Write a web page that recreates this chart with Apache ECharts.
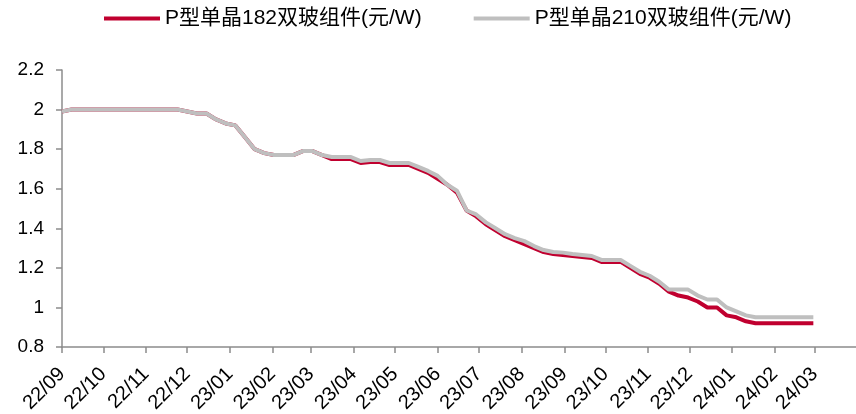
<!DOCTYPE html>
<html>
<head>
<meta charset="utf-8">
<script src="https://cdn.jsdelivr.net/npm/echarts@6/dist/echarts.min.js"></script>
<style>
  html, body { margin: 0; padding: 0; background: #fff; }
  #e-line { width: 856px; height: 414px; }
</style>
</head>
<body>
<div id="e-line"></div>
<script>
// Data (weekly, every Thursday from 22/09/01)
var startDate = [2022, 8, 1];
var weekCount = 79;

var seriesNames = ["P型单晶182双玻组件(元/W)", "P型单晶210双玻组件(元/W)"];

var price182 = [
  1.99, 2.00, 2.00, 2.00, 2.00, 2.00, 2.00, 2.00, 2.00, 2.00,
  2.00, 2.00, 2.00, 1.99, 1.98, 1.98, 1.95, 1.93, 1.92, 1.86,
  1.80, 1.78, 1.77, 1.77, 1.77, 1.79, 1.79, 1.77, 1.75, 1.75,
  1.75, 1.73, 1.735, 1.735, 1.72, 1.72, 1.72, 1.70, 1.68, 1.65,
  1.62, 1.58, 1.49, 1.46, 1.42, 1.39, 1.36, 1.34, 1.32, 1.30,
  1.28, 1.27, 1.265, 1.26, 1.255, 1.25, 1.23, 1.23, 1.23, 1.20,
  1.17, 1.15, 1.12, 1.08, 1.06, 1.05, 1.03, 1.00, 1.00, 0.96,
  0.95, 0.93, 0.92, 0.92, 0.92, 0.92, 0.92, 0.92, 0.92
];

var price210 = [
  1.99, 2.00, 2.00, 2.00, 2.00, 2.00, 2.00, 2.00, 2.00, 2.00,
  2.00, 2.00, 2.00, 1.99, 1.98, 1.98, 1.95, 1.93, 1.92, 1.86,
  1.80, 1.78, 1.77, 1.77, 1.77, 1.79, 1.79, 1.77, 1.76, 1.76,
  1.76, 1.74, 1.745, 1.745, 1.73, 1.73, 1.73, 1.71, 1.69, 1.665,
  1.62, 1.59, 1.49, 1.47, 1.43, 1.40, 1.37, 1.35, 1.335, 1.31,
  1.29, 1.28, 1.277, 1.27, 1.265, 1.26, 1.24, 1.24, 1.24, 1.21,
  1.18, 1.16, 1.13, 1.09, 1.09, 1.09, 1.06, 1.04, 1.04, 1.00,
  0.98, 0.96, 0.95, 0.95, 0.95, 0.95, 0.95, 0.95, 0.95
];

// month ticks 22/09 .. 24/03
var monthTicks = [
  "2022-09-01", "2022-10-01", "2022-11-01", "2022-12-01", "2023-01-01",
  "2023-02-01", "2023-03-01", "2023-04-01", "2023-05-01", "2023-06-01",
  "2023-07-01", "2023-08-01", "2023-09-01", "2023-10-01", "2023-11-01",
  "2023-12-01", "2024-01-01", "2024-02-01", "2024-03-01"
];

// UTILS
function pad(n) {
  return n < 10 ? "0" + n : "" + n;
}

function toTime(str) {
  var p = str.split("-");
  return new Date(+p[0], +p[1] - 1, +p[2]).getTime();
}

var weekDates = [];
for (var i = 0; i < weekCount; i++) {
  weekDates.push(new Date(startDate[0], startDate[1], startDate[2] + 7 * i).getTime());
}

function pairUp(values) {
  return values.map(function (v, idx) {
    return [weekDates[idx], v];
  });
}

var tickTimes = monthTicks.map(toTime);

var axisColor = "#8c8c8c";
var fontFamily = "Arial, 'Liberation Sans', 'Noto Sans CJK SC', sans-serif";

var myChart = echarts.init(document.getElementById("e-line"));

myChart.setOption({
  animation: false,
  textStyle: { fontFamily: fontFamily },
  legend: {
    left: 99,
    top: 3,
    itemWidth: 56,
    itemHeight: 4,
    itemGap: 52,
    icon: "rect",
    textStyle: { fontSize: 21, color: "#000", fontFamily: fontFamily },
    data: seriesNames,
  },
  // keep the plot box fixed, labels may run to the page edge
  grid: { left: 62, right: 0, top: 70, bottom: 67, outerBoundsMode: "none" },
  xAxis: {
    // dates as timestamps on a plain value axis, month ticks listed by hand
    type: "value",
    min: toTime("2022-09-01"),
    max: toTime("2024-03-31"),
    axisLine: { show: true, lineStyle: { color: axisColor, width: 1.5 } },
    axisTick: {
      show: true,
      length: 6,
      customValues: tickTimes,
      lineStyle: { color: axisColor, width: 1.5 },
    },
    axisLabel: {
      customValues: tickTimes,
      rotate: 45,
      margin: 24,
      fontSize: 20,
      color: "#000",
      fontFamily: fontFamily,
      formatter: function (val) {
        var d = new Date(val);
        return pad(d.getFullYear() % 100) + "/" + pad(d.getMonth() + 1);
      },
    },
    splitLine: { show: false },
  },
  yAxis: {
    type: "value",
    min: 0.8,
    max: 2.2,
    interval: 0.2,
    axisLine: { show: true, lineStyle: { color: axisColor, width: 1.5 } },
    axisTick: { show: true, length: 6, lineStyle: { color: axisColor, width: 1.5 } },
    axisLabel: {
      margin: 18,
      fontSize: 19,
      color: "#000",
      fontFamily: fontFamily,
      formatter: function (v) {
        return String(Math.round(v * 10) / 10);
      },
    },
    splitLine: { show: false },
  },
  series: [
    {
      name: seriesNames[0],
      type: "line",
      symbol: "none",
      data: pairUp(price182),
      itemStyle: { color: "#C0002F" },
      lineStyle: { color: "#C0002F", width: 4 },
    },
    {
      name: seriesNames[1],
      type: "line",
      symbol: "none",
      data: pairUp(price210),
      itemStyle: { color: "#BFBFBF" },
      lineStyle: { color: "#BFBFBF", width: 4 },
    },
  ],
});

window.addEventListener("resize", function () {
  myChart.resize();
});
</script>
</body>
</html>
